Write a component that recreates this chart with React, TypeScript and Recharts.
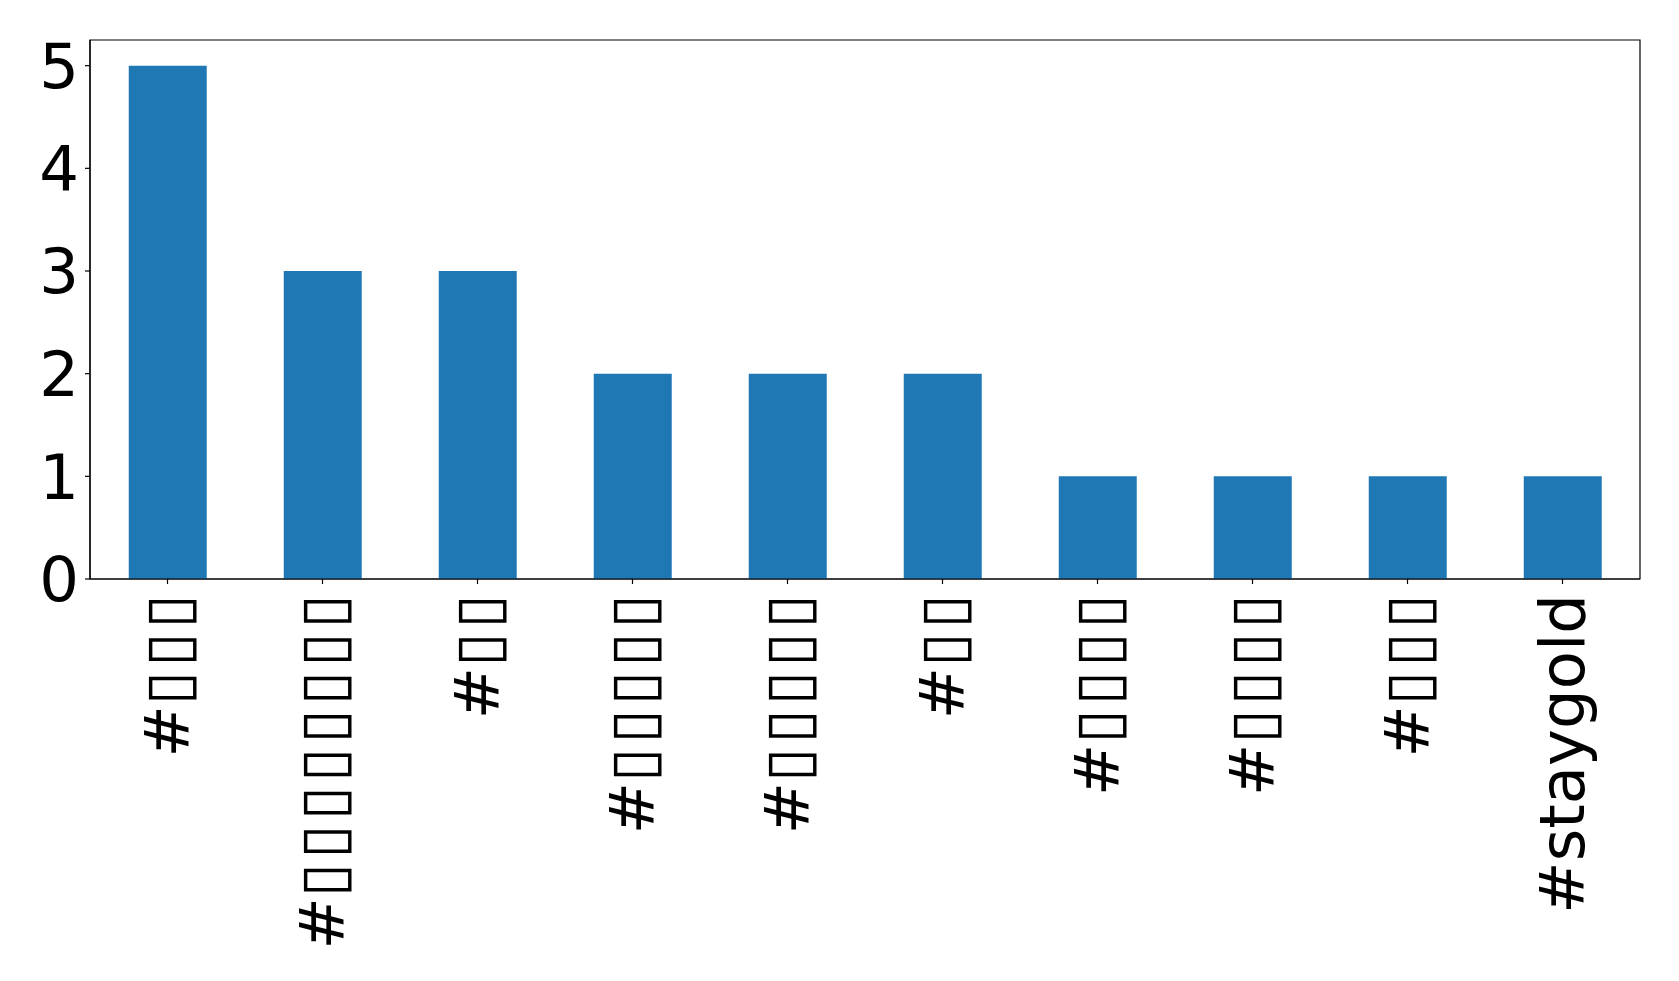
import { BarChart, Bar, XAxis, YAxis, ReferenceArea } from "recharts";

// hashtag labels: the original glyphs were missing in the source font,
// so they show up as empty boxes
const tags = [
  "#▯▯▯",
  "#▯▯▯▯▯▯▯▯",
  "#▯▯",
  "#▯▯▯▯▯",
  "#▯▯▯▯▯",
  "#▯▯",
  "#▯▯▯▯",
  "#▯▯▯▯",
  "#▯▯▯",
  "#staygold",
];
const counts = [5, 3, 3, 2, 2, 2, 1, 1, 1, 1];
const yTicks = [0, 1, 2, 3, 4, 5];
const Y_MAX = 5.25;

const data = tags.map((tag, i) => ({ tag, count: counts[i] }));

const FONT = "DejaVu Sans";
const BOX_GAP = 4;

const TagTick = (props: any) => {
  const { x, y, payload } = props;
  const label: string = payload.value;
  const boxes = label.includes("▯");
  return (
    <g transform={`translate(${x},${y})`}>
      <text
        transform="rotate(-90)"
        x={boxes ? BOX_GAP : 0}
        y={21}
        textAnchor="end"
        fontSize={62.5}
        fontFamily={FONT}
        fill="#000"
      >
        {boxes ? (
          <>
            <tspan>#</tspan>
            <tspan letterSpacing={BOX_GAP}>{label.slice(1)}</tspan>
          </>
        ) : (
          label
        )}
      </text>
    </g>
  );
};

export default function App() {
  return (
    <div style={{ position: "absolute", left: 0, top: 0, background: "#fff" }}>
      <BarChart
        width={1679}
        height={981}
        data={data}
        margin={{ top: 40, right: 39, left: 0, bottom: 2 }}
        barCategoryGap="25%"
      >
        <XAxis
          dataKey="tag"
          height={400}
          interval={0}
          tick={<TagTick />}
          tickSize={5}
          tickMargin={10}
          stroke="#000"
          tickLine={{ stroke: "#000", strokeWidth: 1.2 }}
          axisLine={{ stroke: "#000", strokeWidth: 1.2 }}
        />
        <YAxis
          domain={[0, Y_MAX]}
          ticks={yTicks}
          width={90}
          tickSize={5}
          tickMargin={6}
          interval={0}
          stroke="#000"
          tickLine={{ stroke: "#000", strokeWidth: 1.2 }}
          tick={{ fontSize: 62.5, fontFamily: FONT, fill: "#000" }}
          axisLine={{ stroke: "#000", strokeWidth: 1.2 }}
        />
        <Bar dataKey="count" fill="#1f77b4" isAnimationActive={false} />
        <ReferenceArea
          y1={0}
          y2={Y_MAX}
          fill="none"
          fillOpacity={0}
          stroke="#000"
          strokeWidth={1.2}
          strokeOpacity={1}
        />
      </BarChart>
    </div>
  );
}
